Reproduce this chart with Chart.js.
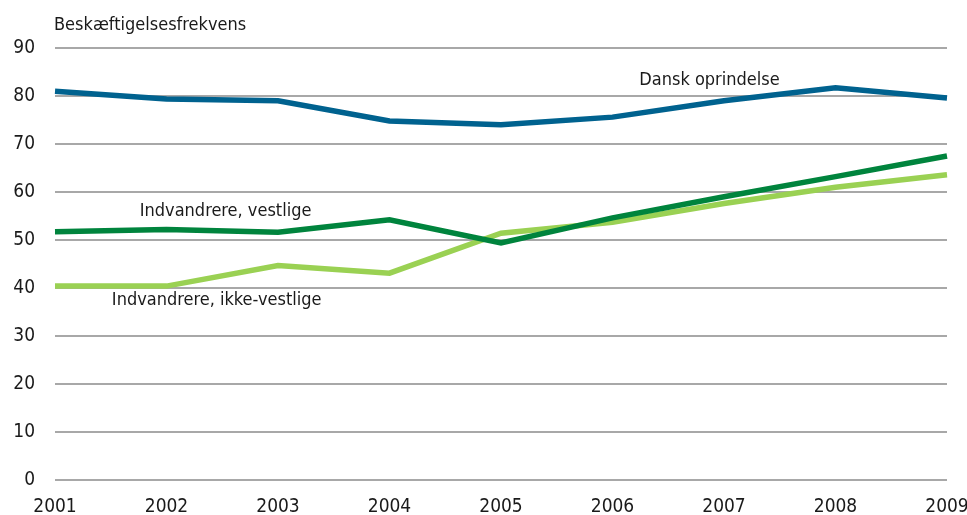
<!DOCTYPE html>
<html>
<head>
<meta charset="utf-8">
<script src="https://cdn.jsdelivr.net/npm/chart.js@4"></script>
<style>
  html, body { margin: 0; padding: 0; background: #fff; }
  #wrap { width: 967px; height: 515px; }
</style>
</head>
<body>
<div id="wrap"><canvas id="chart" width="967" height="515"></canvas></div>
<script>
const years = ['2001', '2002', '2003', '2004', '2005', '2006', '2007', '2008', '2009'];
const dansk = [81.0, 79.4, 79.0, 74.8, 74.0, 75.6, 79.0, 81.7, 79.6];
const vestlige = [51.7, 52.2, 51.6, 54.2, 49.4, 54.6, 59.0, 63.2, 67.5];
const ikkeVestlige = [40.4, 40.4, 44.7, 43.1, 51.4, 53.7, 57.6, 61.0, 63.6];
const yTicks = [0, 10, 20, 30, 40, 50, 60, 70, 80, 90];

// series labels placed in data coordinates: [text, x index, y value]
const seriesLabels = [
    ['Dansk oprindelse', 5.87, 83.3],
    ['Indvandrere, vestlige', 1.53, 56.0],
    ['Indvandrere, ikke-vestlige', 1.45, 37.5]
];

const FONT = '"Liberation Sans Narrow", "DejaVu Sans Condensed", sans-serif';

const labelPlugin = {
    id: 'labels',
    afterDatasetsDraw(chart) {
        const ctx = chart.ctx;
        const x = chart.scales.x, y = chart.scales.y;
        ctx.save();
        ctx.fillStyle = '#1a1a1a';
        ctx.font = '18px ' + FONT;
        ctx.textAlign = 'center';
        ctx.textBaseline = 'middle';
        seriesLabels.forEach(([t, xi, yv]) => {
            ctx.fillText(t, x.getPixelForValue(xi), y.getPixelForValue(yv));
        });
        ctx.textAlign = 'left';
        ctx.fillText('Beskæftigelsesfrekvens', 54, 25);
        ctx.restore();
    }
};

new Chart(document.getElementById('chart'), {
    type: 'line',
    data: {
        labels: years,
        datasets: [
            { label: 'Dansk oprindelse', data: dansk, borderColor: '#00628f' },
            { label: 'Indvandrere, vestlige', data: vestlige, borderColor: '#00843d' },
            { label: 'Indvandrere, ikke-vestlige', data: ikkeVestlige, borderColor: '#9ad153' }
        ].map(d => Object.assign(d, { borderWidth: 5.5, pointRadius: 0, tension: 0, fill: false, borderCapStyle: 'butt' }))
    },
    options: {
        responsive: false,
        animation: false,
        layout: { padding: { top: 48, right: 20, left: 0, bottom: 0 } },
        plugins: {
            legend: { display: false },
            title: { display: false },
            tooltip: { enabled: false }
        },
        scales: {
            x: {
                offset: false,
                grid: { display: false },
                border: { display: false },
                afterFit: s => { s.height = 35; s.paddingRight = 0; s.paddingLeft = 0; },
                ticks: { color: '#1a1a1a', font: { family: FONT, size: 19 }, padding: 8, maxRotation: 0, autoSkip: false }
            },
            y: {
                min: 0,
                max: 90,
                afterBuildTicks: axis => { axis.ticks = yTicks.map(v => ({ value: v })); },
                afterFit: s => { s.width = 55; },
                grid: { color: '#a8a8a8', lineWidth: 2, drawTicks: false },
                border: { display: false },
                ticks: { color: '#1a1a1a', font: { family: FONT, size: 19 }, padding: 20 }
            }
        }
    },
    plugins: [labelPlugin]
});
</script>
</body>
</html>
